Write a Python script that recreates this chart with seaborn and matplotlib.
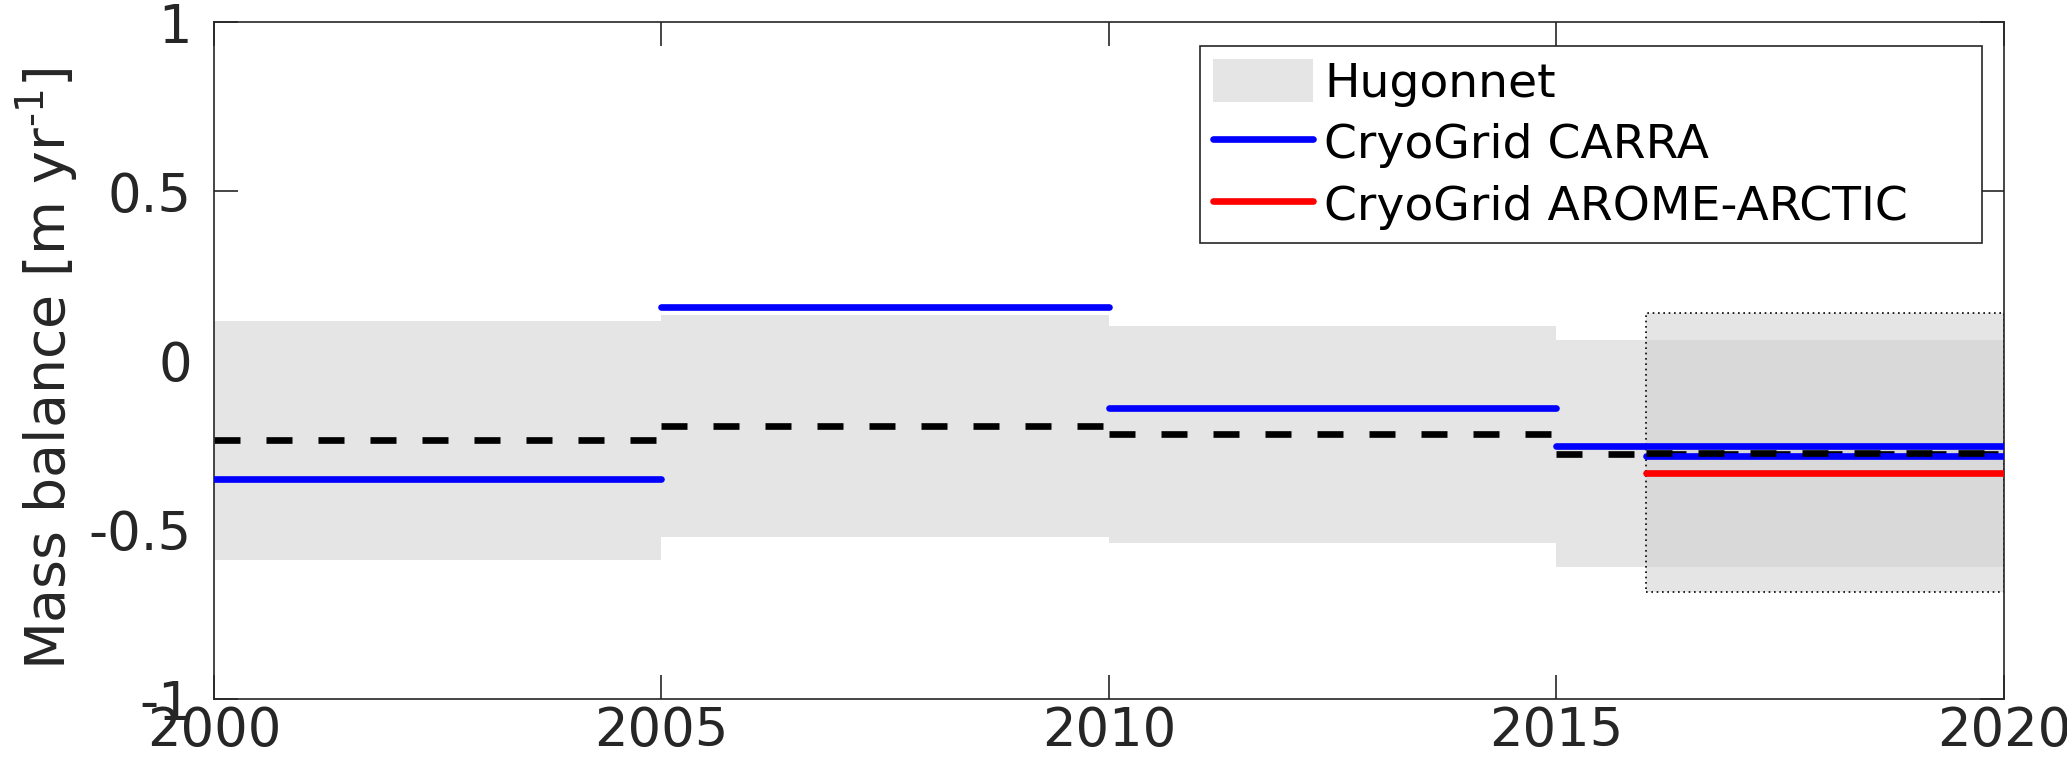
import numpy as np
import pandas as pd
import matplotlib
matplotlib.use("Agg")
import matplotlib.pyplot as plt
import seaborn as sns
from matplotlib.patches import Patch
from matplotlib.lines import Line2D

# ---- data ----
hug_start = [2000, 2005, 2010, 2015]
hug_end = [2005, 2010, 2015, 2020]
hug_mean = [-0.236, -0.193, -0.218, -0.275]
hug_low = [-0.589, -0.522, -0.539, -0.611]
hug_high = [0.117, 0.135, 0.102, 0.060]

box_start = [2016]
box_end = [2020]
box_mean = [-0.273]
box_low = [-0.685]
box_high = [0.140]

carra_start = [2000, 2005, 2010, 2015, 2016]
carra_end = [2005, 2010, 2015, 2020, 2020]
carra_val = [-0.350, 0.159, -0.140, -0.252, -0.281]

arome_start = [2016]
arome_end = [2020]
arome_val = [-0.331]

xticks = [2000, 2005, 2010, 2015, 2020]
yticks = [-1, -0.5, 0, 0.5, 1]
ytick_labels = ["-1", "-0.5", "0", "0.5", "1"]
legend_labels = ["Hugonnet", "CryoGrid CARRA", "CryoGrid AROME-ARCTIC"]
ylabel = "Mass balance [m yr$^{\u20101}$]"


def segments(starts, ends, vals):
    rows = []
    for i, (s, e, v) in enumerate(zip(starts, ends, vals)):
        rows.append({"x": s, "y": v, "seg": i})
        rows.append({"x": e, "y": v, "seg": i})
    return pd.DataFrame(rows)


sns.set_style("white")
plt.rcParams["font.family"] = ["DejaVu Sans"]
plt.rcParams["mathtext.default"] = "regular"

fig = plt.figure(figsize=(20.67, 7.7), dpi=100)
ax = fig.add_axes([0.1035, 0.0922, 0.8660, 0.8792])

grey = (0.898, 0.898, 0.898)
for s, e, lo, hi in zip(hug_start, hug_end, hug_low, hug_high):
    ax.fill_between([s, e], [lo, lo], [hi, hi], color=grey, lw=0, zorder=1)

for s, e, lo, hi in zip(box_start, box_end, box_low, box_high):
    ax.fill_between([s, e], [lo, lo], [hi, hi], facecolor=(0.81, 0.81, 0.81),
                    alpha=0.54, edgecolor="none", lw=0, zorder=1.5)
    ax.plot([s, e, e, s, s], [lo, lo, hi, hi, lo], color="black", lw=1.2,
            linestyle=(0, (1, 2.2)), zorder=1.6)

lw = 4.8
sns.lineplot(data=segments(carra_start, carra_end, carra_val), x="x", y="y",
             units="seg", estimator=None, color=(0, 0, 1), lw=lw, ax=ax,
             zorder=3)
sns.lineplot(data=segments(arome_start, arome_end, arome_val), x="x", y="y",
             units="seg", estimator=None, color=(1, 0, 0), lw=lw, ax=ax,
             zorder=3)
sns.lineplot(data=segments(hug_start, hug_end, hug_mean), x="x", y="y",
             units="seg", estimator=None, color="black", lw=lw, ax=ax,
             zorder=2.5, linestyle=(0, (3.9, 3.9)))
sns.lineplot(data=segments(box_start, box_end, box_mean), x="x", y="y",
             units="seg", estimator=None, color="black", lw=lw, ax=ax,
             zorder=3.2, linestyle=(0, (3.9, 3.9)))

ax.set_xlim(2000, 2020)
ax.set_ylim(-1, 1)
ax.set_xticks(xticks)
ax.set_xticklabels([str(t) for t in xticks])
ax.set_yticks(yticks)
ax.set_yticklabels(ytick_labels)
ax.set_xlabel("")
ax.set_ylabel(ylabel, fontsize=40, color="#262626")
ax.yaxis.set_label_coords(-0.075, 0.488)

tc = "#262626"
ax.tick_params(axis="both", which="major", direction="in", length=17,
               width=1.2, color=tc, labelcolor=tc, labelsize=38,
               top=True, right=True, bottom=True, left=True)
ax.tick_params(axis="y", pad=16)
ax.tick_params(axis="x", pad=4)
for sp in ax.spines.values():
    sp.set_visible(True)
    sp.set_color(tc)
    sp.set_linewidth(1.2)

handles = [Patch(facecolor=grey, edgecolor="none"),
           Line2D([], [], color=(0, 0, 1), lw=lw),
           Line2D([], [], color=(1, 0, 0), lw=lw)]
leg = ax.legend(handles, legend_labels, loc="upper left",
                bbox_to_anchor=(0.551, 0.9645, 0.437, 0.0), mode="expand",
                borderaxespad=0, fontsize=34, frameon=True, fancybox=False,
                framealpha=1, edgecolor=tc, handlelength=2.1,
                handletextpad=0.25, labelspacing=0.3, borderpad=0.28,
                handleheight=1.0)
leg.get_frame().set_linewidth(1.2)
for t in leg.get_texts():
    t.set_color("black")

fig.savefig("out.png", dpi=100)
